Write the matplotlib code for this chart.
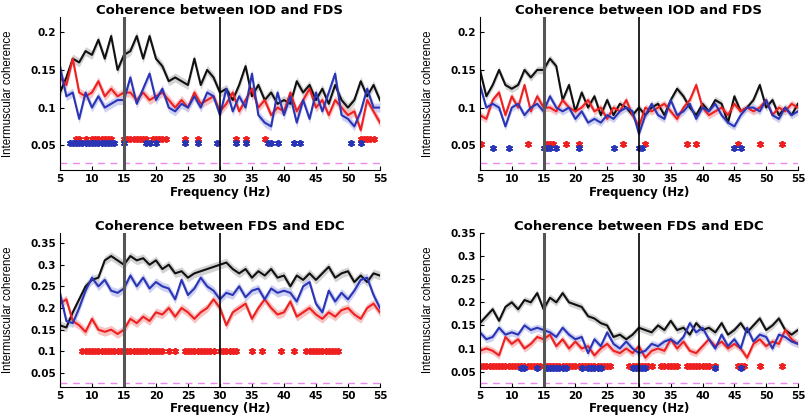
import matplotlib.pyplot as plt
import numpy as np

# frequency axis (Hz), one value per Hz
freq = np.arange(5, 56)

# top left: coherence between IOD and FDS
tl_black = [0.12, 0.14, 0.165, 0.16, 0.175, 0.17, 0.19, 0.165, 0.195, 0.15,
            0.17, 0.175, 0.195, 0.165, 0.195, 0.165, 0.155, 0.135, 0.14, 0.135,
            0.13, 0.165, 0.13, 0.15, 0.14, 0.12, 0.125, 0.11, 0.13, 0.155,
            0.115, 0.13, 0.11, 0.12, 0.105, 0.11, 0.105, 0.135, 0.12, 0.13,
            0.11, 0.125, 0.105, 0.13, 0.11, 0.1, 0.11, 0.135, 0.115, 0.13, 0.11]
tl_red = [0.14, 0.13, 0.165, 0.12, 0.115, 0.12, 0.135, 0.115, 0.125, 0.115,
          0.12, 0.12, 0.11, 0.12, 0.11, 0.115, 0.12, 0.11, 0.1, 0.11,
          0.1, 0.12, 0.105, 0.11, 0.115, 0.095, 0.105, 0.12, 0.095, 0.11,
          0.125, 0.1, 0.11, 0.09, 0.1, 0.095, 0.12, 0.095, 0.11, 0.125,
          0.1, 0.11, 0.09, 0.11, 0.1, 0.09, 0.095, 0.07, 0.11, 0.095, 0.08]
tl_blue = [0.155, 0.115, 0.12, 0.085, 0.12, 0.1, 0.115, 0.1, 0.105, 0.11,
           0.11, 0.14, 0.105, 0.125, 0.145, 0.11, 0.125, 0.1, 0.095, 0.105,
           0.1, 0.115, 0.1, 0.12, 0.115, 0.09, 0.125, 0.095, 0.115, 0.1,
           0.145, 0.09, 0.08, 0.075, 0.12, 0.09, 0.115, 0.08, 0.11, 0.085,
           0.12, 0.095, 0.12, 0.145, 0.09, 0.085, 0.075, 0.095, 0.125, 0.1, 0.1]
tl_red_sig = [7.5, 8, 9, 10, 10.5, 11, 11.5, 12, 12.5, 13, 15, 15.5, 16, 16.5,
              17, 17.5, 18, 18.5, 19.5, 20, 20.5, 21, 21.5, 24.5, 26.5, 32.5,
              34, 37, 52, 52.5, 53, 53.5, 54]
tl_blue_sig = [6.5, 7, 7.5, 8, 8.5, 9, 9.5, 10, 10.5, 11, 11.5, 12, 12.5, 13,
               13.5, 15, 18.5, 19, 20, 24.5, 26.5, 29.5, 32.5, 34, 37.5, 38,
               39, 41.5, 42.5, 50.5, 52]

# top right: coherence between IOD and FDS
tr_black = [0.15, 0.115, 0.13, 0.15, 0.13, 0.125, 0.13, 0.15, 0.14, 0.15,
            0.15, 0.165, 0.155, 0.11, 0.13, 0.095, 0.12, 0.1, 0.115, 0.09,
            0.11, 0.09, 0.105, 0.1, 0.09, 0.1, 0.09, 0.1, 0.105, 0.09,
            0.11, 0.125, 0.115, 0.1, 0.09, 0.105, 0.095, 0.11, 0.105, 0.08,
            0.115, 0.095, 0.1, 0.11, 0.13, 0.1, 0.11, 0.09, 0.1, 0.09, 0.105]
tr_red = [0.09, 0.085, 0.11, 0.12, 0.09, 0.115, 0.1, 0.13, 0.095, 0.115,
          0.1, 0.1, 0.095, 0.11, 0.1, 0.095, 0.1, 0.11, 0.095, 0.1,
          0.085, 0.1, 0.095, 0.11, 0.09, 0.075, 0.1, 0.095, 0.1, 0.105,
          0.095, 0.085, 0.1, 0.11, 0.13, 0.1, 0.09, 0.095, 0.1, 0.09,
          0.105, 0.095, 0.1, 0.095, 0.1, 0.11, 0.09, 0.1, 0.095, 0.105, 0.1]
tr_blue = [0.13, 0.1, 0.105, 0.1, 0.075, 0.1, 0.105, 0.09, 0.1, 0.105,
           0.095, 0.115, 0.1, 0.095, 0.1, 0.085, 0.095, 0.08, 0.085, 0.08,
           0.09, 0.085, 0.095, 0.1, 0.095, 0.065, 0.09, 0.105, 0.09, 0.085,
           0.11, 0.09, 0.095, 0.105, 0.085, 0.1, 0.095, 0.105, 0.09, 0.08,
           0.075, 0.09, 0.1, 0.1, 0.095, 0.11, 0.09, 0.085, 0.1, 0.09, 0.095]
tr_red_sig = [5.2, 12.5, 15.5, 16, 16.5, 18.5, 20.5, 27.5, 31, 37.5, 39, 45.5,
              49, 52.5]
tr_blue_sig = [7, 9.5, 15, 15.5, 16, 17, 20.5, 26, 30, 30.5, 45, 46]

# bottom left: coherence between FDS and EDC
bl_black = [0.16, 0.155, 0.19, 0.22, 0.25, 0.265, 0.27, 0.31, 0.32, 0.31,
            0.30, 0.32, 0.31, 0.315, 0.30, 0.31, 0.29, 0.30, 0.28, 0.285,
            0.27, 0.28, 0.285, 0.29, 0.295, 0.30, 0.305, 0.29, 0.28, 0.29,
            0.27, 0.285, 0.275, 0.29, 0.27, 0.275, 0.25, 0.275, 0.265, 0.28,
            0.265, 0.28, 0.295, 0.27, 0.28, 0.285, 0.26, 0.275, 0.26, 0.28, 0.275]
bl_red = [0.21, 0.22, 0.17, 0.16, 0.145, 0.175, 0.15, 0.145, 0.15, 0.14,
          0.15, 0.175, 0.165, 0.18, 0.17, 0.19, 0.185, 0.2, 0.18, 0.2,
          0.19, 0.175, 0.19, 0.2, 0.22, 0.2, 0.16, 0.19, 0.2, 0.21,
          0.175, 0.2, 0.22, 0.2, 0.185, 0.19, 0.215, 0.18, 0.19, 0.2,
          0.185, 0.175, 0.19, 0.18, 0.195, 0.2, 0.185, 0.175, 0.2, 0.21, 0.19]
bl_blue = [0.235, 0.17, 0.165, 0.2, 0.24, 0.27, 0.25, 0.265, 0.24, 0.235,
           0.245, 0.275, 0.25, 0.27, 0.245, 0.26, 0.25, 0.245, 0.22, 0.265,
           0.23, 0.245, 0.27, 0.25, 0.24, 0.22, 0.235, 0.23, 0.25, 0.225,
           0.24, 0.245, 0.22, 0.245, 0.235, 0.24, 0.235, 0.215, 0.25, 0.26,
           0.21, 0.19, 0.24, 0.215, 0.235, 0.22, 0.24, 0.265, 0.27, 0.23, 0.2]
bl_red_sig = [8.5, 9, 9.5, 10, 10.5, 11, 11.5, 12, 12.5, 13, 13.5, 14, 14.5,
              15, 15.5, 16, 16.5, 17, 17.5, 18, 18.5, 19, 19.5, 20, 20.5, 21,
              22, 23, 24.5, 25, 25.5, 26, 26.5, 27, 27.5, 28, 28.5, 29, 30,
              30.5, 31, 31.5, 32, 32.5, 35, 36.5, 39.5, 41.5, 43.5, 44, 44.5,
              45, 45.5, 46, 46.5, 47, 47.5, 48, 48.5]
bl_blue_sig = []

# bottom right: coherence between FDS and EDC
br_black = [0.155, 0.17, 0.185, 0.16, 0.19, 0.2, 0.185, 0.205, 0.2, 0.22,
            0.185, 0.21, 0.2, 0.22, 0.2, 0.195, 0.19, 0.17, 0.165, 0.155,
            0.15, 0.125, 0.13, 0.12, 0.13, 0.145, 0.14, 0.135, 0.15, 0.14,
            0.16, 0.14, 0.145, 0.13, 0.155, 0.14, 0.145, 0.135, 0.155, 0.13,
            0.14, 0.155, 0.135, 0.15, 0.165, 0.14, 0.15, 0.165, 0.14, 0.13, 0.14]
br_red = [0.095, 0.1, 0.095, 0.085, 0.125, 0.11, 0.12, 0.1, 0.11, 0.125,
          0.12, 0.13, 0.105, 0.12, 0.1, 0.115, 0.1, 0.105, 0.085, 0.1,
          0.11, 0.095, 0.09, 0.1, 0.09, 0.105, 0.08, 0.095, 0.1, 0.095,
          0.12, 0.1, 0.115, 0.095, 0.09, 0.105, 0.12, 0.105, 0.115, 0.1,
          0.11, 0.1, 0.08, 0.11, 0.12, 0.105, 0.115, 0.11, 0.14, 0.12, 0.11]
br_blue = [0.135, 0.12, 0.125, 0.145, 0.13, 0.135, 0.13, 0.15, 0.14, 0.145,
           0.14, 0.135, 0.125, 0.145, 0.13, 0.12, 0.125, 0.09, 0.12, 0.105,
           0.135, 0.11, 0.1, 0.115, 0.1, 0.09, 0.095, 0.11, 0.105, 0.115,
           0.12, 0.11, 0.125, 0.155, 0.135, 0.145, 0.12, 0.1, 0.13, 0.105,
           0.12, 0.1, 0.145, 0.115, 0.13, 0.125, 0.1, 0.13, 0.125, 0.115, 0.11]
br_red_sig = [5, 5.5, 6, 6.5, 7, 7.5, 8, 8.5, 9, 9.5, 10, 10.5, 11, 11.5, 12,
              12.5, 13, 13.5, 14, 14.5, 15, 15.5, 16, 16.5, 17, 17.5, 18, 18.5,
              19, 19.5, 20, 20.5, 21, 21.5, 22, 22.5, 23, 23.5, 24, 24.5, 25,
              25.5, 28.5, 29, 29.5, 30, 30.5, 31, 31.5, 32, 33.5, 34, 34.5, 35,
              35.5, 36, 37.5, 38, 38.5, 39, 39.5, 40, 40.5, 41, 42, 45.5, 46,
              46.5, 49, 52.5]
br_blue_sig = [11.5, 12, 14, 15.5, 16, 16.5, 17, 17.5, 18, 18.5, 21, 22, 22.5,
               23, 23.5, 24, 29, 29.5, 30, 30.5, 31, 42, 46]

BLACK = '#111111'
RED = '#ee2020'
BLUE = '#2a35b5'

plt.rcParams['font.family'] = 'DejaVu Sans'


def draw_panel(ax, title, black, red, blue, red_sig, blue_sig, red_y, blue_y,
               ylim, yticks, ylabels, band):
    for vals, col, shade in [(black, BLACK, '#c8c8c8'), (red, RED, '#f6b4b4'),
                             (blue, BLUE, '#c4c6f0')]:
        vals = np.array(vals)
        ax.fill_between(freq, vals - band, vals + band, color=shade,
                        linewidth=0, alpha=0.8)
        ax.plot(freq, vals, color=col, linewidth=1.5)

    ax.plot(red_sig, [red_y] * len(red_sig), linestyle='none', marker=(6, 2, 0),
            markersize=5, markeredgewidth=1.3, color=RED)
    ax.plot(blue_sig, [blue_y] * len(blue_sig), linestyle='none',
            marker=(6, 2, 0), markersize=5, markeredgewidth=1.3, color=BLUE)

    ax.axhline(0.026, color='#ee88ee', linestyle=(0, (5, 4)), linewidth=1)
    ax.axvline(15, color='#555555', linewidth=2.2)
    ax.axvline(30, color='black', linewidth=1.2)

    ax.set_xlim(5, 55)
    ax.set_ylim(*ylim)
    ax.set_xticks(range(5, 56, 5))
    ax.set_yticks(yticks)
    ax.set_yticklabels(ylabels)
    ax.tick_params(direction='in', length=3, labelsize=7.5, pad=3)
    for lab in ax.get_xticklabels() + ax.get_yticklabels():
        lab.set_fontweight('bold')
    ax.spines['top'].set_visible(False)
    ax.spines['right'].set_visible(False)
    ax.set_title(title, fontsize=9.5, fontweight='bold', pad=2)
    ax.set_xlabel('Frequency (Hz)', fontsize=8.5, fontweight='bold', labelpad=1)
    ax.set_ylabel('Intermuscular coherence', fontsize=8.3, family='Liberation Sans')
    ax.yaxis.set_label_coords(-0.145, 0.5)


fig = plt.figure(figsize=(8.06, 4.2), dpi=100)

top_ticks = [0.05, 0.1, 0.15, 0.2]
top_labels = ['0.05', '0.1', '0.15', '0.2']
bot_ticks = [0.05, 0.1, 0.15, 0.2, 0.25, 0.3, 0.35]
bot_labels = ['0.05', '0.1', '0.15', '0.2', '0.25', '0.3', '0.35']

ax1 = fig.add_axes([0.0744, 0.595, 0.397, 0.364])
draw_panel(ax1, 'Coherence between IOD and FDS', tl_black, tl_red, tl_blue,
           tl_red_sig, tl_blue_sig, 0.058, 0.053, (0.017, 0.22),
           top_ticks, top_labels, 0.006)

ax2 = fig.add_axes([0.5955, 0.595, 0.3945, 0.364])
draw_panel(ax2, 'Coherence between IOD and FDS', tr_black, tr_red, tr_blue,
           tr_red_sig, tr_blue_sig, 0.052, 0.047, (0.017, 0.22),
           top_ticks, top_labels, 0.005)

ax3 = fig.add_axes([0.0744, 0.079, 0.397, 0.366])
draw_panel(ax3, 'Coherence between FDS and EDC', bl_black, bl_red, bl_blue,
           bl_red_sig, bl_blue_sig, 0.1, 0.095, (0.018, 0.373),
           bot_ticks, bot_labels, 0.01)

ax4 = fig.add_axes([0.5955, 0.079, 0.3945, 0.366])
draw_panel(ax4, 'Coherence between FDS and EDC', br_black, br_red, br_blue,
           br_red_sig, br_blue_sig, 0.063, 0.058, (0.017, 0.35),
           bot_ticks, bot_labels, 0.008)

plt.savefig('out.png', dpi=100)
